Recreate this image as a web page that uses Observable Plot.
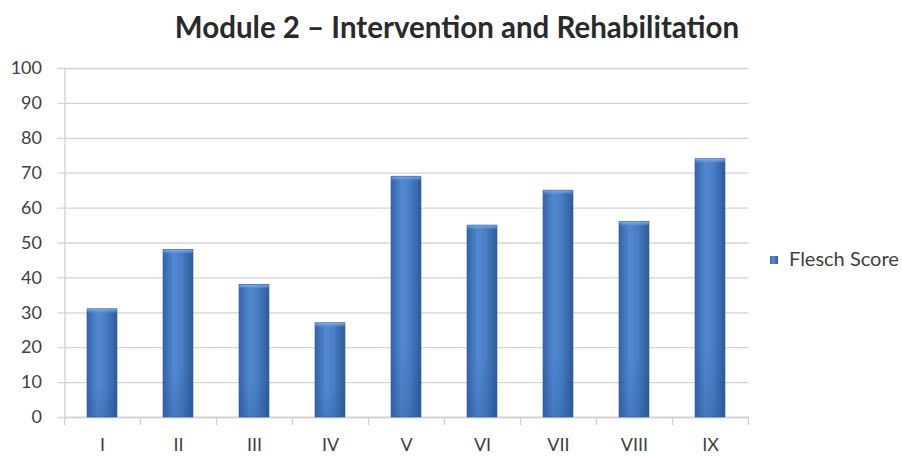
<!DOCTYPE html>
<html>
<head>
<meta charset="utf-8">
<script src="https://cdn.jsdelivr.net/npm/d3@7"></script>
<script src="https://cdn.jsdelivr.net/npm/@observablehq/plot@0.6"></script>
<style>
  html, body { margin: 0; padding: 0; background: #fff; }
  #wrap { position: relative; width: 902px; height: 457px; font-family: Lato, "Open Sans", sans-serif; }
  #title { position: absolute; top: 12px; left: 457px; transform: translateX(-50%); white-space: nowrap;
           font-size: 29.5px; font-weight: bold; color: #2a2a2a; line-height: 1; }
  #legend { position: absolute; left: 770px; top: 248px; font-size: 20px; color: #404040; line-height: 1; white-space: nowrap; }
  #legend .sw { display: inline-block; width: 8px; height: 8px; margin-right: 11px; vertical-align: 2px;
                background: linear-gradient(to right, #3566ad, #5a8fd6 40%, #2b5a9a); }
</style>
</head>
<body>
<div id="wrap">
  <div id="title">Module 2 – Intervention and Rehabilitation</div>
  <div id="chart"></div>
  <div id="legend"><span class="sw"></span>Flesch Score</div>
</div>
<script>
const categories = ["I", "II", "III", "IV", "V", "VI", "VII", "VIII", "IX"];
const scores = [31, 48, 38, 27, 69, 55, 65, 56, 74];
const yTicks = [0, 10, 20, 30, 40, 50, 60, 70, 80, 90, 100];
const seriesName = "Flesch Score";

const data = categories.map((c, i) => ({category: c, value: scores[i]}));

const W = 902, H = 457;
const mL = 64.5, mR = 153.5, mT = 68, mB = 40;
const step = (W - mL - mR) / categories.length;
const plotH = H - mT - mB;

const chart = Plot.plot({
  width: W,
  height: H,
  marginLeft: mL,
  marginRight: mR,
  marginTop: mT,
  marginBottom: mB,
  style: {fontFamily: "Lato, 'Open Sans', sans-serif", fontSize: "18px", color: "#404040", background: "#fff"},
  x: {domain: categories, paddingInner: 0.6, paddingOuter: 0.3, label: null},
  y: {domain: [0, 100], label: null},
  marks: [
    Plot.gridY(yTicks, {stroke: "#d4d4d4", strokeOpacity: 1, strokeWidth: 1.3, insetLeft: -7}),
    Plot.axisY(yTicks, {tickSize: 0, tickPadding: 23, fontSize: 18, fill: "#404040"}),
    Plot.axisX({tickSize: 0, tickPadding: 21, fontSize: 18, fill: "#404040"}),
    Plot.ruleX(categories, {x: d => d, dx: -step / 2, stroke: "#cfcfcf", strokeWidth: 1.3, insetTop: plotH, insetBottom: -8}),
    Plot.ruleX(categories.slice(-1), {x: d => d, dx: step / 2, stroke: "#cfcfcf", strokeWidth: 1.3, insetTop: plotH, insetBottom: -8}),
    Plot.frame({anchor: "left", stroke: "#cfcfcf", strokeWidth: 1.3}),
    Plot.ruleY([0], {stroke: "#cfcfcf", strokeWidth: 1.3}),
    Plot.barY(data, {x: "category", y: "value", fill: "url(#barGrad)", title: d => `${seriesName}: ${d.value}`}),
    Plot.barY(data, {x: "category", y1: 0, y2: "value", fill: "url(#barShade)"}),
    Plot.barY(data, {x: "category", y1: "value", y2: "value", insetBottom: -4, fill: "url(#barTop)"}),
    Plot.barY(data, {x: "category", y: "value", fill: "none", stroke: "#2d5d9f", strokeWidth: 0.6})
  ]
});

const ns = "http://www.w3.org/2000/svg";
const defs = document.createElementNS(ns, "defs");
defs.innerHTML = `
  <linearGradient id="barGrad" x1="0" x2="1" y1="0" y2="0">
    <stop offset="0" stop-color="#3464a8"/>
    <stop offset="0.35" stop-color="#5189d2"/>
    <stop offset="0.6" stop-color="#4a7fc6"/>
    <stop offset="1" stop-color="#2c5c9c"/>
  </linearGradient>
  <linearGradient id="barShade" x1="0" x2="0" y1="0" y2="1">
    <stop offset="0" stop-color="#1f4a85" stop-opacity="0.0"/>
    <stop offset="0.7" stop-color="#1f4a85" stop-opacity="0.0"/>
    <stop offset="1" stop-color="#1f4a85" stop-opacity="0.22"/>
  </linearGradient>
  <linearGradient id="barTop" x1="0" x2="0" y1="0" y2="1">
    <stop offset="0" stop-color="#8fbcf0" stop-opacity="0.9"/>
    <stop offset="1" stop-color="#6a9de0" stop-opacity="0.2"/>
  </linearGradient>`;
chart.insertBefore(defs, chart.firstChild);
document.getElementById("chart").appendChild(chart);
</script>
</body>
</html>
